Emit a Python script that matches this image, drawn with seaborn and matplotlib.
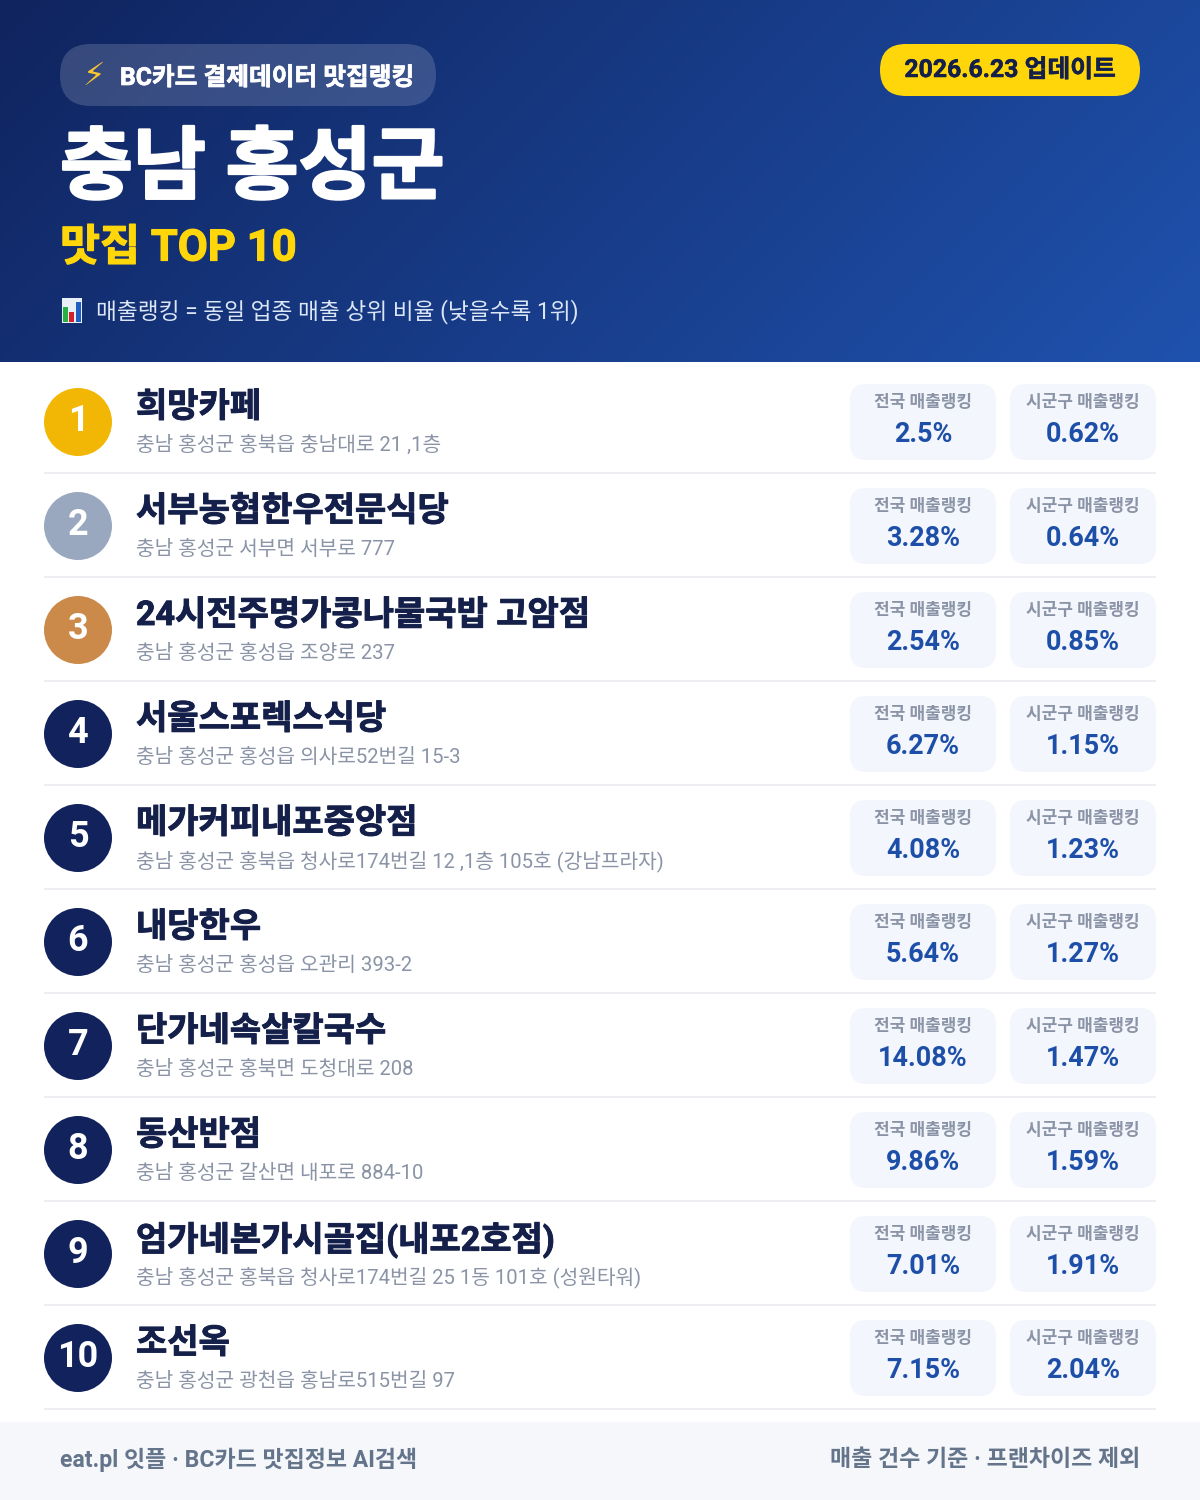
import numpy as np
import pandas as pd
import matplotlib
matplotlib.use("Agg")
import matplotlib.pyplot as plt
import matplotlib.patheffects as pe
from matplotlib.patches import FancyBboxPatch, Rectangle
from matplotlib.colors import LinearSegmentedColormap
import seaborn as sns

ranks = list(range(1, 11))
names = ["희망카페", "서부농협한우전문식당", "24시전주명가콩나물국밥 고암점", "서울스포렉스식당", "메가커피내포중앙점",
         "내당한우", "단가네속살칼국수", "동산반점", "엄가네본가시골집(내포2호점)", "조선옥"]
addresses = ["충남 홍성군 홍북읍 충남대로 21 ,1층", "충남 홍성군 서부면 서부로 777", "충남 홍성군 홍성읍 조양로 237",
             "충남 홍성군 홍성읍 의사로52번길 15-3", "충남 홍성군 홍북읍 청사로174번길 12 ,1층 105호 (강남프라자)",
             "충남 홍성군 홍성읍 오관리 393-2", "충남 홍성군 홍북면 도청대로 208", "충남 홍성군 갈산면 내포로 884-10",
             "충남 홍성군 홍북읍 청사로174번길 25 1동 101호 (성원타워)", "충남 홍성군 광천읍 홍남로515번길 97"]
national = [2.5, 3.28, 2.54, 6.27, 4.08, 5.64, 14.08, 9.86, 7.01, 7.15]
local = [0.62, 0.64, 0.85, 1.15, 1.23, 1.27, 1.47, 1.59, 1.91, 2.04]

sns.set_theme(style="white")
plt.rcParams["font.family"] = ["Roboto", "Noto Sans CJK KR", "DejaVu Sans"]

NAVY, BLUE, GREY = "#14204a", "#1e4fa8", "#8a94a6"
fig = plt.figure(figsize=(12, 15), dpi=100, facecolor="white")
ax = fig.add_axes([0, 0, 1, 1])


def txt(x, y, s, px, color, weight="normal", ha="left", stroke=0, **kw):
    t = ax.text(x, y, s, fontsize=px * 0.72, color=color, fontweight=weight, ha=ha, va="center", **kw)
    if stroke:
        t.set_path_effects([pe.withStroke(linewidth=stroke * 0.72, foreground=color)])


def box(x0, y0, x1, y1, r, color, alpha=1.0, z=1):
    ax.add_patch(FancyBboxPatch((x0, y0), x1 - x0, y1 - y0, boxstyle=f"round,pad=0,rounding_size={r}",
                                fc=color, ec="none", alpha=alpha, zorder=z))


# header gradient
gx, gy = np.meshgrid(np.arange(1200), np.arange(362))
cmap = LinearSegmentedColormap.from_list("hdr", ["#10245f", "#1f52ae"])
ax.imshow((gx + gy) / 1562, extent=(0, 1200, 362, 0), cmap=cmap, vmin=0, vmax=1, aspect="auto", zorder=0)

box(60, 44, 436, 106, 31, "white", 0.16)
txt(82, 76, "⚡", 32, "#f7c531", family="DejaVu Sans")
txt(120, 78, "BC카드 결제데이터 맛집랭킹", 24.7, "white", "bold", stroke=0.7)
box(880, 44, 1140, 96, 26, "#ffd60a")
txt(1010, 70, "2026.6.23 업데이트", 24.8, "#14204a", "bold", ha="center", stroke=0.5)
txt(60, 171, "충남 홍성군", 79.3, "white", "bold", stroke=2.4)
txt(60, 249, "맛집 TOP 10", 43.5, "#ffd60a", "bold", stroke=1.2)

# chart icon
ax.add_patch(Rectangle((62, 298), 20, 25, fc="#e9eff6", ec="none", zorder=2))
for bx, bw, by, c in [(63, 5, 307, "#27b043"), (69, 5, 312, "#d4202a"), (76, 5, 302, "#1f5fc0")]:
    ax.add_patch(Rectangle((bx, by), bw, 322 - by, fc=c, ec="none", zorder=3))
txt(96, 312, "매출랭킹 = 동일 업종 매출 상위 비율 (낮을수록 1위)", 22.7, "#dbe6f7", "normal")

# rows
df = pd.DataFrame({"rank": ranks, "name": names, "address": addresses, "national": national, "local": local})
df["cx"] = 78
df["cy"] = 422 + (df["rank"] - 1) * 104
palette = {r: "#11225c" for r in ranks}
palette.update({1: "#f2b705", 2: "#9aa8bf", 3: "#cb8a4a"})
sns.scatterplot(data=df, x="cx", y="cy", hue="rank", palette=palette, s=(68 * 0.72) ** 2, linewidth=0,
                legend=False, ax=ax, zorder=3)

for i, row in df.iterrows():
    cy = row["cy"]
    txt(78, cy - 1, str(row["rank"]), 36, "white", "bold", ha="center", zorder=4)
    txt(136, cy - 14, row["name"], 34, NAVY, "bold", stroke=0.9)
    txt(136, cy + 23, row["address"], 20.3, GREY, "normal")
    ax.add_patch(Rectangle((44, cy + 50), 1112, 2, fc="#eceef2", ec="none", zorder=1))
    for x0, x1, label, val in [(850, 996, "전국 매출랭킹", row["national"]), (1010, 1156, "시군구 매출랭킹", row["local"])]:
        box(x0, cy - 38, x1, cy + 38, 16, "#f3f6fc")
        xc = (x0 + x1) / 2
        txt(xc, cy - 20, label, 17, GREY, "bold", ha="center", zorder=4)
        txt(xc, cy + 13, f"{val:g}%", 27, BLUE, "bold", ha="center", zorder=4)

# footer
ax.add_patch(Rectangle((0, 1422), 1200, 78, fc="#f5f7fb", ec="none", zorder=1))
txt(60, 1460, "eat.pl 잇플 · BC카드 맛집정보 AI검색", 23, "#64748b", "bold", zorder=2)
txt(1140, 1460, "매출 건수 기준 · 프랜차이즈 제외", 23, "#64748b", "bold", ha="right", zorder=2)

ax.set_xlim(0, 1200)
ax.set_ylim(1500, 0)
ax.axis("off")
fig.savefig("out.png", dpi=100, facecolor="white")
